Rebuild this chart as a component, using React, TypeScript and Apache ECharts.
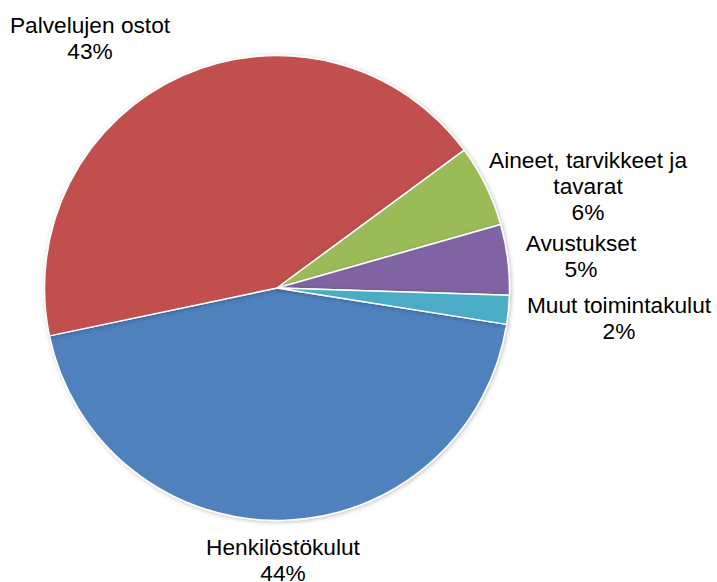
import React, { useEffect, useRef } from "react";
import * as echarts from "echarts";

const categories = [
  "Henkilöstökulut",
  "Palvelujen ostot",
  "Aineet, tarvikkeet ja tavarat",
  "Avustukset",
  "Muut toimintakulut",
];
const values = [44.2, 43.2, 5.7, 4.9, 2.0];
const colors = ["#4F81BD", "#C0504D", "#9BBB59", "#8064A2", "#4BACC6"];
// label anchor points (layout only)
const labelAnchors: [number, number][] = [
  [283, 560],
  [90, 38],
  [588, 186],
  [581, 256],
  [619, 318],
];
const labelWrap = ["", "", "Aineet, tarvikkeet ja\ntavarat", "", ""];

export default function App() {
  const ref = useRef<HTMLDivElement>(null);
  useEffect(() => {
    if (!ref.current) return;
    const chart = echarts.init(ref.current, undefined, { renderer: "svg" });
    chart.setOption({
      animation: false,
      backgroundColor: "#ffffff",
      series: [
        {
          type: "pie",
          center: [277, 288],
          radius: 232.5,
          startAngle: -9,
          clockwise: true,
          percentPrecision: 0,
          data: categories.map((name, i) => ({
            name,
            value: values[i],
            itemStyle: { color: colors[i] },
          })),
          itemStyle: {
            borderColor: "#ffffff",
            borderWidth: 1.5,
            shadowBlur: 4,
            shadowColor: "rgba(0,0,0,0.25)",
            shadowOffsetX: 1,
            shadowOffsetY: 1,
          },
          label: {
            show: true,
            position: "outside",
            overflow: "none",
            fontFamily: "'Liberation Sans', Arial, sans-serif",
            fontSize: 22.7,
            lineHeight: 26,
            color: "#000000",
            formatter: (p: any) => {
              const n = labelWrap[p.dataIndex] || p.name;
              return n + "\n" + p.percent + "%";
            },
          },
          labelLine: { show: false },
          labelLayout: (p: any) => {
            const a = labelAnchors[p.dataIndex];
            return { x: a[0], y: a[1], align: "center", verticalAlign: "middle" };
          },
          emphasis: { disabled: true },
        },
      ],
    });
    return () => chart.dispose();
  }, []);
  return (
    <div
      ref={ref}
      style={{ position: "fixed", left: 0, top: 0, width: 717, height: 582 }}
    />
  );
}
